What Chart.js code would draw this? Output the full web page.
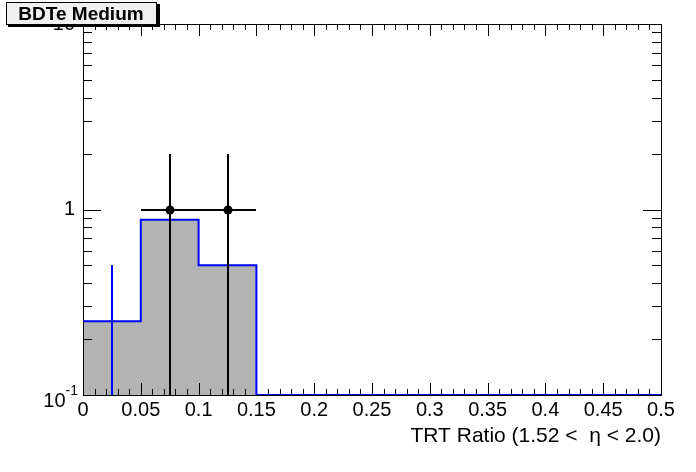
<!DOCTYPE html>
<html>
<head>
<meta charset="utf-8">
<script src="https://cdn.jsdelivr.net/npm/chart.js@4"></script>
<style>
  html, body { margin: 0; padding: 0; background: #fff; }
  #wrap { width: 696px; height: 472px; position: relative; }
</style>
</head>
<body>
<div id="wrap"><canvas id="grafico"></canvas></div>
<script>
// histogram (MC) bins
const binEdges = [0, 0.05, 0.1, 0.15, 0.2, 0.25, 0.3, 0.35, 0.4, 0.45, 0.5];
const mcValues = [0.25, 0.88, 0.5, 0, 0, 0, 0, 0, 0, 0];
const mcErrors = [0.25, 0.88, 0.5, 0, 0, 0, 0, 0, 0, 0];

// data points
const dataX = [0.075, 0.125];
const dataY = [1, 1];
const dataXErr = [0.025, 0.025];
const dataYErr = [1, 1];

const xTickValues = [0, 0.05, 0.1, 0.15, 0.2, 0.25, 0.3, 0.35, 0.4, 0.45, 0.5];
const yMin = 0.1;
const yMax = 10;

const FONT = '"Liberation Sans", Arial, Helvetica, sans-serif';

// step outline built from the bins
const histPoints = [];
mcValues.forEach((v, i) => {
    const y = Math.max(v, yMin);
    histPoints.push({ x: binEdges[i], y: y }, { x: binEdges[i + 1], y: y });
});

const rootStyle = {
    id: 'rootStyle',
    afterDatasetDraw(chart, args) {
        if (args.index !== 0) return; // frame + ticks right after the grey fill
        const ctx = chart.ctx;
        const a = chart.chartArea;
        const xs = chart.scales.x, ys = chart.scales.y;
        ctx.save();
        ctx.strokeStyle = '#000';
        ctx.lineWidth = 1;
        ctx.beginPath();
        // x ticks (major + minor), bottom and top, pointing inward
        for (let k = 0; k <= 50; k++) {
            const px = Math.round(xs.getPixelForValue(k * 0.01)) + 0.5;
            const len = (k % 5 === 0) ? 12 : 6;
            ctx.moveTo(px, a.bottom); ctx.lineTo(px, a.bottom - len);
            ctx.moveTo(px, a.top); ctx.lineTo(px, a.top + len);
        }
        // y ticks on log scale, left and right
        for (let d = yMin; d < yMax * 0.999; d *= 10) {
            for (let m = 1; m <= 9; m++) {
                const py = Math.round(ys.getPixelForValue(d * m)) + 0.5;
                const len = (m === 1) ? 18 : 9;
                ctx.moveTo(a.left, py); ctx.lineTo(a.left + len, py);
                ctx.moveTo(a.right, py); ctx.lineTo(a.right - len, py);
            }
        }
        ctx.stroke();
        ctx.strokeRect(Math.round(a.left) + 0.5, Math.round(a.top) + 0.5,
            Math.round(a.right - a.left), Math.round(a.bottom - a.top));
        ctx.restore();
    },
    afterDatasetsDraw(chart) {
        const ctx = chart.ctx;
        const a = chart.chartArea;
        const xs = chart.scales.x, ys = chart.scales.y;
        const yPix = v => Math.round(ys.getPixelForValue(Math.min(Math.max(v, yMin), yMax)));
        const xPix = v => Math.round(xs.getPixelForValue(v));
        ctx.save();
        ctx.beginPath();
        ctx.rect(a.left, a.top, a.right - a.left, a.bottom - a.top);
        ctx.clip();
        ctx.lineWidth = 2;
        // MC errors (vertical, blue)
        ctx.strokeStyle = '#0000ff';
        ctx.beginPath();
        mcValues.forEach((v, i) => {
            if (v <= 0) return;
            const px = xPix((binEdges[i] + binEdges[i + 1]) / 2);
            ctx.moveTo(px, yPix(v - mcErrors[i]));
            ctx.lineTo(px, yPix(v + mcErrors[i]));
        });
        ctx.stroke();
        // data errors (black)
        ctx.strokeStyle = '#000';
        ctx.beginPath();
        dataX.forEach((x, i) => {
            const px = xPix(x);
            const py = yPix(dataY[i]);
            ctx.moveTo(px, yPix(dataY[i] - dataYErr[i]));
            ctx.lineTo(px, yPix(dataY[i] + dataYErr[i]));
            ctx.moveTo(xPix(x - dataXErr[i]), py);
            ctx.lineTo(xPix(x + dataXErr[i]), py);
        });
        ctx.stroke();
        ctx.fillStyle = '#000';
        dataX.forEach((x, i) => {
            ctx.beginPath();
            ctx.arc(xPix(x), yPix(dataY[i]), 4.5, 0, Math.PI * 2);
            ctx.fill();
        });
        ctx.restore();

        // y labels
        ctx.save();
        ctx.fillStyle = '#000';
        ctx.textAlign = 'right';
        ctx.textBaseline = 'middle';
        ctx.font = '20px ' + FONT;
        ctx.fillText('1', 75, ys.getPixelForValue(1));
        ctx.fillText('10', 75, ys.getPixelForValue(10));
        const p01 = ys.getPixelForValue(0.1);
        ctx.textBaseline = 'alphabetic';
        ctx.font = '14px ' + FONT;
        ctx.fillText('-1', 78, p01);
        const w = ctx.measureText('-1').width;
        ctx.font = '20px ' + FONT;
        ctx.fillText('10', 78 - w, p01 + 12);
        ctx.restore();

        // title box
        ctx.save();
        ctx.fillStyle = '#000';
        ctx.fillRect(8, 4, 152, 23);
        ctx.fillStyle = '#f0f0f0';
        ctx.fillRect(6, 2, 151, 23);
        ctx.strokeStyle = '#000';
        ctx.lineWidth = 1;
        ctx.strokeRect(6.5, 2.5, 150, 22);
        ctx.fillStyle = '#000';
        ctx.font = 'bold 19px ' + FONT;
        ctx.textAlign = 'center';
        ctx.textBaseline = 'middle';
        ctx.fillText('BDTe Medium', 81, 15);
        ctx.restore();
    }
};

const ctx = document.getElementById('grafico').getContext('2d');
const grafico = new Chart(ctx, {
    type: 'line',
    data: {
        datasets: [{
            label: 'fill',
            data: histPoints,
            borderWidth: 0,
            backgroundColor: '#b3b3b3',
            fill: 'start',
            pointRadius: 0,
            order: 3
        }, {
            label: 'MC',
            data: histPoints,
            borderColor: '#0000ff',
            borderWidth: 2,
            fill: false,
            pointRadius: 0,
            order: 2
        }]
    },
    options: {
        responsive: true,
        maintainAspectRatio: false,
        animation: false,
        events: [],
        layout: { padding: { top: 24, right: 35, left: 0, bottom: 0 } },
        plugins: {
            legend: { display: false },
            tooltip: { enabled: false }
        },
        scales: {
            x: {
                type: 'linear',
                min: 0,
                max: 0.5,
                afterFit: s => { s.height = 77; },
                afterBuildTicks: s => { s.ticks = xTickValues.map(v => ({ value: v })); },
                grid: { display: false, drawTicks: false },
                border: { display: false },
                ticks: {
                    color: '#000',
                    font: { size: 20, family: FONT },
                    padding: 3,
                    maxRotation: 0,
                    autoSkip: false,
                    callback: v => String(+v.toFixed(2))
                },
                title: {
                    display: true,
                    text: 'TRT Ratio (1.52 <  η < 2.0)',
                    align: 'end',
                    color: '#000',
                    font: { size: 21, family: FONT },
                    padding: { top: 0, bottom: 23 }
                }
            },
            y: {
                type: 'logarithmic',
                min: yMin,
                max: yMax,
                afterFit: s => { s.width = 83; },
                grid: { display: false, drawTicks: false },
                border: { display: false },
                ticks: { display: false }
            }
        }
    },
    plugins: [rootStyle]
});
</script>
</body>
</html>
